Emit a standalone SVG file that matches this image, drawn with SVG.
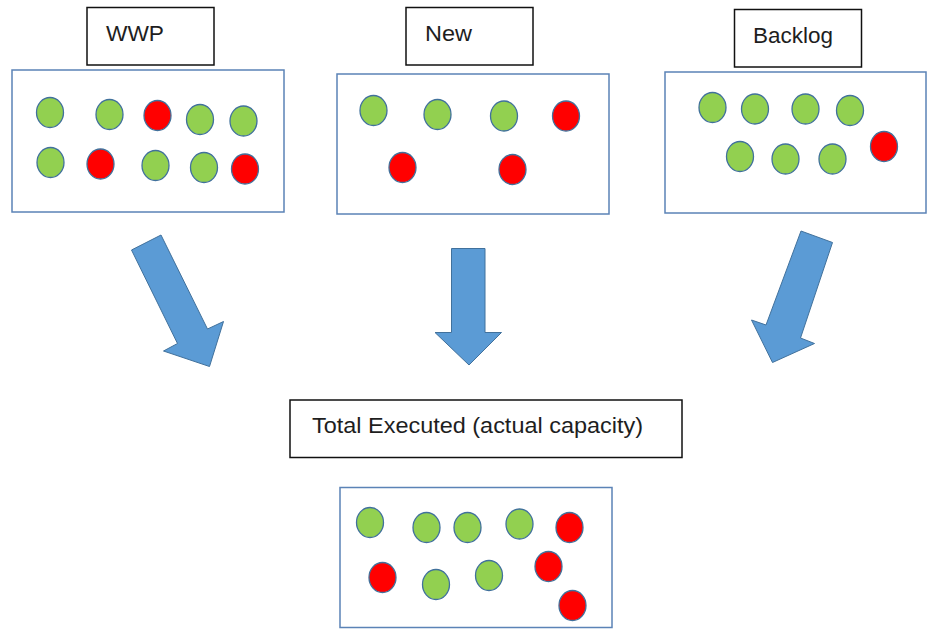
<svg xmlns="http://www.w3.org/2000/svg" width="927" height="629" viewBox="0 0 927 629">
<style>
.bg{fill:#ffffff}
.label{fill:#ffffff;stroke:#111111;stroke-width:1.5}
.pool{fill:#ffffff;stroke:#5b83b6;stroke-width:1.5}
.txt{font-family:"Liberation Sans",Arial,sans-serif;font-size:22px;fill:#1e1e1e}
.g{fill:#92d050;stroke:#41719c;stroke-width:1.3}
.r{fill:#ff0000;stroke:#41719c;stroke-width:1.3}
.arrow{fill:#5b9bd5;stroke:#41719c;stroke-width:1}
</style>
<defs>
<ellipse id="dot" cx="0" cy="0" rx="13.5" ry="15"/>
</defs>
<rect class="bg" x="0" y="0" width="927" height="629"/>

<g id="wwp-label">
<rect class="label" x="87" y="7.5" width="127" height="57.5"/>
<text class="txt" x="106" y="41" textLength="58" lengthAdjust="spacingAndGlyphs">WWP</text>
</g>
<g id="new-label">
<rect class="label" x="406" y="7.5" width="127" height="57.5"/>
<text class="txt" x="425" y="41" textLength="47" lengthAdjust="spacingAndGlyphs">New</text>
</g>
<g id="backlog-label">
<rect class="label" x="734.5" y="9.5" width="127" height="57.5"/>
<text class="txt" x="753" y="43" textLength="80" lengthAdjust="spacingAndGlyphs">Backlog</text>
</g>

<g id="wwp-pool">
<rect class="pool" x="12" y="70" width="272" height="142"/>
<use href="#dot" class="g" x="50" y="112.5"/>
<use href="#dot" class="g" x="109.5" y="114.5"/>
<use href="#dot" class="r" x="157.5" y="115.5"/>
<use href="#dot" class="g" x="200" y="119.5"/>
<use href="#dot" class="g" x="243.5" y="121"/>
<use href="#dot" class="g" x="50.5" y="162.5"/>
<use href="#dot" class="r" x="100.5" y="164"/>
<use href="#dot" class="g" x="155.5" y="165.5"/>
<use href="#dot" class="g" x="204" y="167.5"/>
<use href="#dot" class="r" x="245" y="169"/>
</g>

<g id="new-pool">
<rect class="pool" x="337" y="74" width="272" height="140"/>
<use href="#dot" class="g" x="373.5" y="110.5"/>
<use href="#dot" class="g" x="437.5" y="114.5"/>
<use href="#dot" class="g" x="504" y="116"/>
<use href="#dot" class="r" x="566" y="116"/>
<use href="#dot" class="r" x="402.5" y="167.5"/>
<use href="#dot" class="r" x="512.5" y="169.5"/>
</g>

<g id="backlog-pool">
<rect class="pool" x="665" y="72" width="261" height="141"/>
<use href="#dot" class="g" x="712.5" y="107.5"/>
<use href="#dot" class="g" x="755" y="109"/>
<use href="#dot" class="g" x="805.5" y="109"/>
<use href="#dot" class="g" x="850" y="110.5"/>
<use href="#dot" class="g" x="740" y="156.5"/>
<use href="#dot" class="g" x="785.5" y="159"/>
<use href="#dot" class="g" x="832.5" y="159"/>
<use href="#dot" class="r" x="884" y="146.5"/>
</g>

<g id="connectors">
<polygon class="arrow" points="131.5,250 161,235 207.5,329 223.5,321.5 209.5,366.5 163.5,351 177.5,343.5"/>
<polygon class="arrow" points="451.5,248.5 485,248.5 485,332.5 501.5,332.5 469,365 435,332.5 451.5,332.5"/>
<polygon class="arrow" points="801,231 832.5,242.5 800.5,338 814.5,343.5 772.5,362.5 751.5,320 766,325"/>
</g>

<g id="total-label">
<rect class="label" x="290" y="400" width="392" height="57.5"/>
<text class="txt" x="312" y="433" textLength="331" lengthAdjust="spacingAndGlyphs">Total Executed (actual capacity)</text>
</g>

<g id="total-pool">
<rect class="pool" x="340" y="487.5" width="272" height="140"/>
<use href="#dot" class="g" x="370" y="522.5"/>
<use href="#dot" class="g" x="426.5" y="527.5"/>
<use href="#dot" class="g" x="467.5" y="527.5"/>
<use href="#dot" class="g" x="519.5" y="524"/>
<use href="#dot" class="r" x="569.5" y="527.5"/>
<use href="#dot" class="r" x="382.5" y="577.5"/>
<use href="#dot" class="g" x="436" y="584.5"/>
<use href="#dot" class="g" x="489" y="575.5"/>
<use href="#dot" class="r" x="548.5" y="566.5"/>
<use href="#dot" class="r" x="572.5" y="605.5"/>
</g>
</svg>
